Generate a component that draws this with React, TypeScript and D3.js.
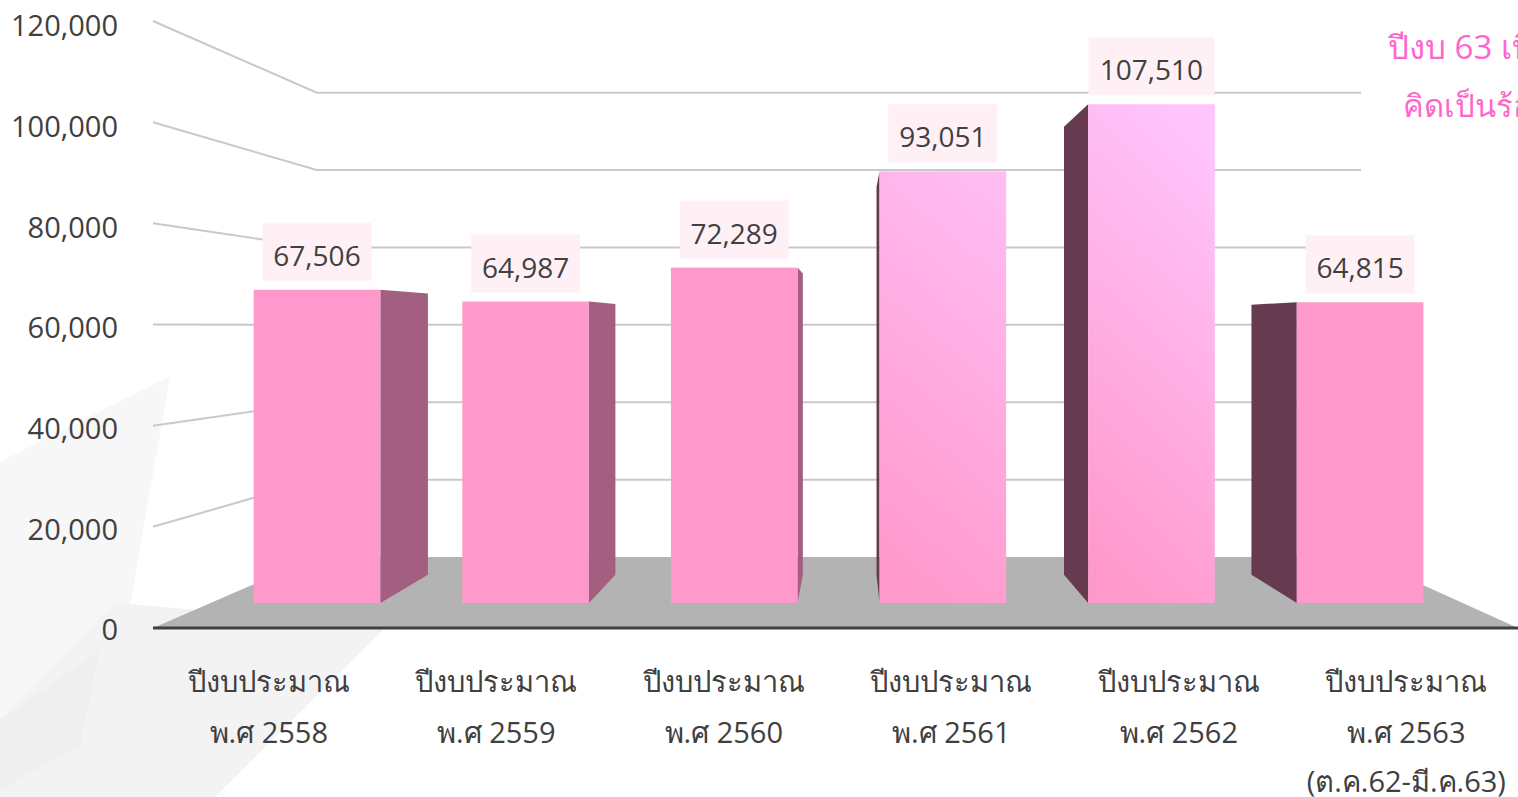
import React from 'react';
import * as d3 from 'd3';

const years = ['2558', '2559', '2560', '2561', '2562', '2563'];
const budgets = [67506, 64987, 72289, 93051, 107510, 64815];
const yTicks = [0, 20000, 40000, 60000, 80000, 100000, 120000];
const extraLine = '(ต.ค.62-มี.ค.63)';
const noteLines = ['ปีงบ 63 เบิก', 'คิดเป็นร้อยละ'];

const width = 1518;
const height = 797;
const font = '"Open Sans", "Noto Sans", Tahoma, sans-serif';

// perspective: everything shrinks towards this point
const vanish = { x: 850, y: 326 };
const wallDepth = 0.765;
const barFront = 0.917;
const barBack = 0.824;
const floorLeft = 153;
const floorRight = 1518;

const x = d3.scaleBand<string>().domain(years).range([155, 1520]).paddingInner(0.393).paddingOuter(0.1965);
const y = d3.scaleLinear().domain([0, 120000]).range([628, 21]);
const yLabel = d3.scaleLinear().domain([0, 120000]).range([630, 26]);
const fmt = d3.format(',');

const project = (px: number, py: number, s: number): [number, number] => [
  vanish.x + (px - vanish.x) * s,
  vanish.y + (py - vanish.y) * s,
];

const line = d3.line();
const poly = (pts: [number, number][]) => line(pts) + 'Z';

// faint grey shapes behind the chart
const backdrop: { d: string; fill: string }[] = [
  { d: 'M0,462 L170,376 L110,720 L0,790Z', fill: '#f7f7f7' },
  { d: 'M115,603 L200,610 L385,628 L215,797 L0,797 L0,720Z', fill: '#f3f3f3' },
  { d: 'M0,720 L100,650 L80,745 L0,790Z', fill: '#efefef' },
];

function topColor(v: number) {
  return d3.scaleLinear<string>().domain([72289, 93051, 107510]).range(['#ff99cc', '#ffbbf2', '#ffc4fd']).clamp(true)(v);
}

export default function App() {
  return (
    <svg width={width} height={height} style={{ position: 'absolute', left: 0, top: 0, background: '#fff' }} fontFamily={font}>
      <defs>
        {budgets.map((v, i) => (
          <linearGradient key={i} id={`bar${i}`} x1="0.65" y1="0" x2="0.4" y2="1">
            <stop offset="0" stopColor={topColor(v)} />
            <stop offset="1" stopColor="#ff99cc" />
          </linearGradient>
        ))}
      </defs>

      {backdrop.map((b, i) => <path key={i} d={b.d} fill={b.fill} />)}

      {/* floor */}
      <path
        d={poly([[floorLeft, y(0)], project(floorLeft, y(0), wallDepth), project(floorRight, y(0), wallDepth), [floorRight, y(0)]])}
        fill="#b3b3b3"
      />

      {/* side wall and back wall grid */}
      {yTicks.slice(1).map(t => {
        const back0 = project(floorLeft, y(t), wallDepth);
        const back1 = project(floorRight, y(t), wallDepth);
        return (
          <path key={t} d={line([[floorLeft, y(t)], back0, back1])!} fill="none" stroke="#c9c9c9" strokeWidth={2} />
        );
      })}

      {/* bars */}
      {budgets.map((v, i) => {
        const x0 = x(years[i])!;
        const x1 = x0 + x.bandwidth();
        const a = project(x0, y(v), barFront);
        const b = project(x1, y(0), barFront);
        const leftFacing = (a[0] + b[0]) / 2 > vanish.x;
        const edge = leftFacing ? x0 : x1;
        const side = poly([
          project(edge, y(v), barFront),
          project(edge, y(v), barBack),
          project(edge, y(0), barBack),
          project(edge, y(0), barFront),
        ]);
        const label = fmt(v);
        const boxW = label.length > 6 ? 126 : 109;
        const cx = (a[0] + b[0]) / 2;
        return (
          <g key={years[i]}>
            <path d={side} fill={leftFacing ? '#663b50' : '#a35f80'} />
            <rect x={a[0]} y={a[1]} width={b[0] - a[0]} height={b[1] - a[1]} fill={`url(#bar${i})`} />
            <rect x={cx - boxW / 2} y={a[1] - 67} width={boxW} height={58} fill="#fff0f6" />
            <text x={cx} y={a[1] - 34} dy="0.36em" textAnchor="middle" fontSize={28} fill="#404040">{label}</text>
          </g>
        );
      })}

      {/* baseline */}
      <line x1={floorLeft} x2={floorRight} y1={y(0)} y2={y(0)} stroke="#404040" strokeWidth={3} />

      {/* y axis labels */}
      {yTicks.map(t => (
        <text key={t} x={118} y={yLabel(t)} dy="0.36em" textAnchor="end" fontSize={29} fill="#404040">{fmt(t)}</text>
      ))}

      {/* category labels */}
      {years.map((yr, i) => {
        const cx = x(yr)! + x.bandwidth() / 2;
        return (
          <text key={yr} textAnchor="middle" fontSize={29} fill="#404040">
            <tspan x={cx} y={692}>ปีงบประมาณ</tspan>
            <tspan x={cx} y={743}>{`พ.ศ ${yr}`}</tspan>
            {i === years.length - 1 && <tspan x={cx} y={792}>{extraLine}</tspan>}
          </text>
        );
      })}

      {/* note, runs off the right edge */}
      {noteLines.map((t, i) => (
        <text key={t} x={i === 0 ? 1388 : 1403} y={i === 0 ? 59 : 117} fontSize={i === 0 ? 33 : 31} fill="#ff66cc">{t}</text>
      ))}
    </svg>
  );
}
